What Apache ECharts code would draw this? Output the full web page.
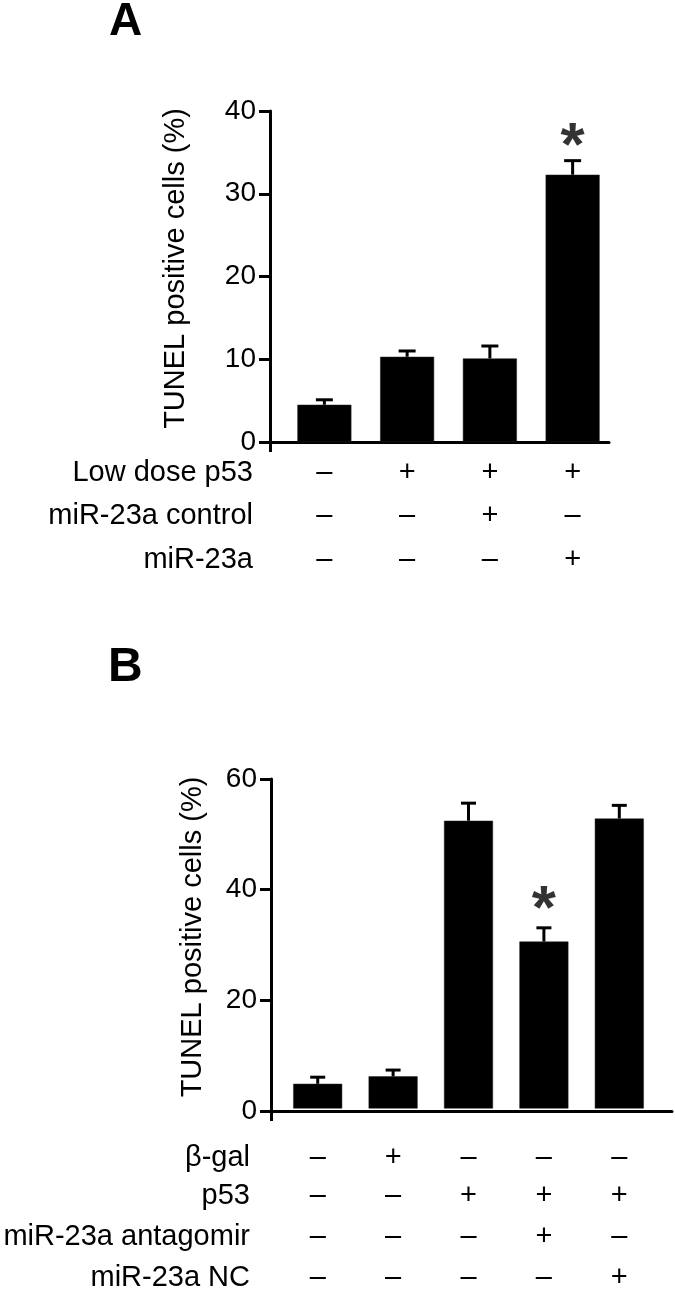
<!DOCTYPE html>
<html>
<head>
<meta charset="utf-8">
<script src="https://cdn.jsdelivr.net/npm/echarts@6/dist/echarts.min.js"></script>
<style>
html,body{margin:0;padding:0;background:#fff;}
#main{width:675px;height:1292px;}
</style>
</head>
<body>
<div id="main"></div>
<script>
// ---------- Panel A data ----------
var groupsA = ['A1', 'A2', 'A3', 'A4'];
var meanA = [4.5, 10.3, 10.1, 32.3];
var semA = [0.6, 0.7, 1.5, 1.7];
var sigA = ['', '', '', '*'];
var yTicksA = [0, 10, 20, 30, 40];
var rowTitlesA = ['Low dose p53', 'miR-23a control', 'miR-23a'];
var rowLowDoseP53 = ['\u2013', '+', '+', '+'];
var rowMiRControl = ['\u2013', '\u2013', '+', '\u2013'];
var rowMiR23a = ['\u2013', '\u2013', '\u2013', '+'];

// ---------- Panel B data ----------
var groupsB = ['B1', 'B2', 'B3', 'B4', 'B5'];
var meanB = [4.5, 5.85, 52.4, 30.4, 52.8];
var semB = [1.2, 1.15, 3.2, 2.5, 2.4];
var sigB = ['', '', '', '*', ''];
var yTicksB = [0, 20, 40, 60];
var rowTitlesB = ['\u03b2-gal', 'p53', 'miR-23a antagomir', 'miR-23a NC'];
var rowBgal = ['\u2013', '+', '\u2013', '\u2013', '\u2013'];
var rowP53 = ['\u2013', '\u2013', '+', '+', '+'];
var rowAntagomir = ['\u2013', '\u2013', '\u2013', '+', '\u2013'];
var rowNC = ['\u2013', '\u2013', '\u2013', '\u2013', '+'];

var FONT = 'Liberation Sans, Arial, Helvetica, sans-serif';
var BLACK = '#000';

function frameX(gi) {
  return {
    type: 'value', gridIndex: gi, min: 0, max: 1, interval: 1,
    axisLine: {show: true, lineStyle: {color: BLACK, width: 3}},
    axisTick: {show: true, length: 10, lineStyle: {color: BLACK, width: 3}, customValues: [0]},
    axisLabel: {show: false},
    splitLine: {show: false}
  };
}
function frameY(gi, ticks, name, gap) {
  return {
    type: 'value', gridIndex: gi, min: ticks[0], max: ticks[ticks.length - 1],
    interval: ticks[1] - ticks[0],
    name: name, nameLocation: 'middle', nameRotate: 90, nameGap: gap,
    nameTextStyle: {fontFamily: FONT, fontSize: 29, color: BLACK, padding: [0, 0, 0, 16]},
    axisLine: {show: true, lineStyle: {color: BLACK, width: 3}},
    axisTick: {show: true, length: 11, lineStyle: {color: BLACK, width: 3}},
    axisLabel: {fontFamily: FONT, fontSize: 28, color: BLACK, margin: 14},
    splitLine: {show: false}
  };
}
function hiddenY(gi, ticks) {
  return {type: 'value', gridIndex: gi, min: ticks[0], max: ticks[ticks.length - 1], show: false};
}
function barX(gi, cats) {
  return {type: 'category', gridIndex: gi, data: cats, show: false};
}
function rowX(gi, labels, title, offset) {
  return {
    type: 'category', gridIndex: gi, data: labels, position: 'bottom', offset: offset,
    name: title, nameLocation: 'start', nameGap: 30,
    nameTextStyle: {fontFamily: FONT, fontSize: 29, color: BLACK, align: 'right', verticalAlign: 'middle'},
    axisLine: {show: false}, axisTick: {show: false}, splitLine: {show: false},
    axisLabel: {interval: 0, margin: 0, verticalAlign: 'middle', fontFamily: FONT, fontSize: 29, color: BLACK}
  };
}
function errData(mean, sem) {
  return mean.map(function (m, i) { return [i, m, m + sem[i]]; });
}
function sigData(mean, sem, sig) {
  var out = [];
  sig.forEach(function (s, i) { if (s) out.push({value: [i, mean[i] + sem[i]], sig: s}); });
  return out;
}
function errSeries(xi, yi, mean, sem, capW) {
  return {
    type: 'custom', xAxisIndex: xi, yAxisIndex: yi, data: errData(mean, sem), z: 3,
    renderItem: function (params, api) {
      var x = api.value(0);
      var p0 = api.coord([x, api.value(1)]);
      var p1 = api.coord([x, api.value(2)]);
      var st = {stroke: BLACK, lineWidth: 3};
      return {type: 'group', children: [
        {type: 'line', shape: {x1: p0[0], y1: p0[1], x2: p1[0], y2: p1[1]}, style: st},
        {type: 'line', shape: {x1: p1[0] - capW / 2, y1: p1[1], x2: p1[0] + capW / 2, y2: p1[1]}, style: st}
      ]};
    }
  };
}
function sigSeries(xi, yi, mean, sem, sig, dist) {
  return {
    type: 'scatter', xAxisIndex: xi, yAxisIndex: yi, symbolSize: 0, data: sigData(mean, sem, sig),
    itemStyle: {color: BLACK},
    label: {show: true, position: 'top', distance: dist, fontFamily: FONT, fontSize: 62, fontWeight: 'bold',
      color: BLACK, textBorderWidth: 0,
      formatter: function (p) { return p.data.sig; }}
  };
}

var option = {
  backgroundColor: '#fff',
  animation: false,
  title: [
    {text: 'A', left: 104, top: -6, textStyle: {fontFamily: FONT, fontSize: 46, fontWeight: 'bold', color: BLACK}},
    {text: 'B', left: 103, top: 639, textStyle: {fontFamily: FONT, fontSize: 48, fontWeight: 'bold', color: BLACK}}
  ],
  grid: [
    {left: 270, top: 111, width: 339, height: 331},
    {left: 283, top: 111, width: 331, height: 331},
    {left: 271, top: 779, width: 401, height: 332},
    {left: 280, top: 779, width: 377, height: 332}
  ],
  xAxis: [
    frameX(0),
    barX(1, groupsA),
    rowX(1, rowLowDoseP53, rowTitlesA[0], 31),
    rowX(1, rowMiRControl, rowTitlesA[1], 74),
    rowX(1, rowMiR23a, rowTitlesA[2], 118),
    frameX(2),
    barX(3, groupsB),
    rowX(3, rowBgal, rowTitlesB[0], 49),
    rowX(3, rowP53, rowTitlesB[1], 87),
    rowX(3, rowAntagomir, rowTitlesB[2], 128),
    rowX(3, rowNC, rowTitlesB[3], 169)
  ],
  yAxis: [
    frameY(0, yTicksA, 'TUNEL positive cells (%)', 80),
    hiddenY(1, yTicksA),
    frameY(2, yTicksB, 'TUNEL positive cells (%)', 64),
    hiddenY(3, yTicksB)
  ],
  series: [
    {type: 'bar', xAxisIndex: 1, yAxisIndex: 1, data: meanA, barWidth: 54,
      itemStyle: {color: BLACK, borderColor: '#222', borderWidth: 0.5}},
    errSeries(1, 1, meanA, semA, 17),
    sigSeries(1, 1, meanA, semA, sigA, -18),
    {type: 'bar', xAxisIndex: 6, yAxisIndex: 3, data: meanB, barWidth: 49,
      itemStyle: {color: BLACK, borderColor: '#222', borderWidth: 0.5}},
    errSeries(6, 3, meanB, semB, 15),
    sigSeries(6, 3, meanB, semB, sigB, -14)
  ]
};

var chart = echarts.init(document.getElementById('main'), null, {renderer: 'canvas'});
chart.setOption(option);
</script>
</body>
</html>
